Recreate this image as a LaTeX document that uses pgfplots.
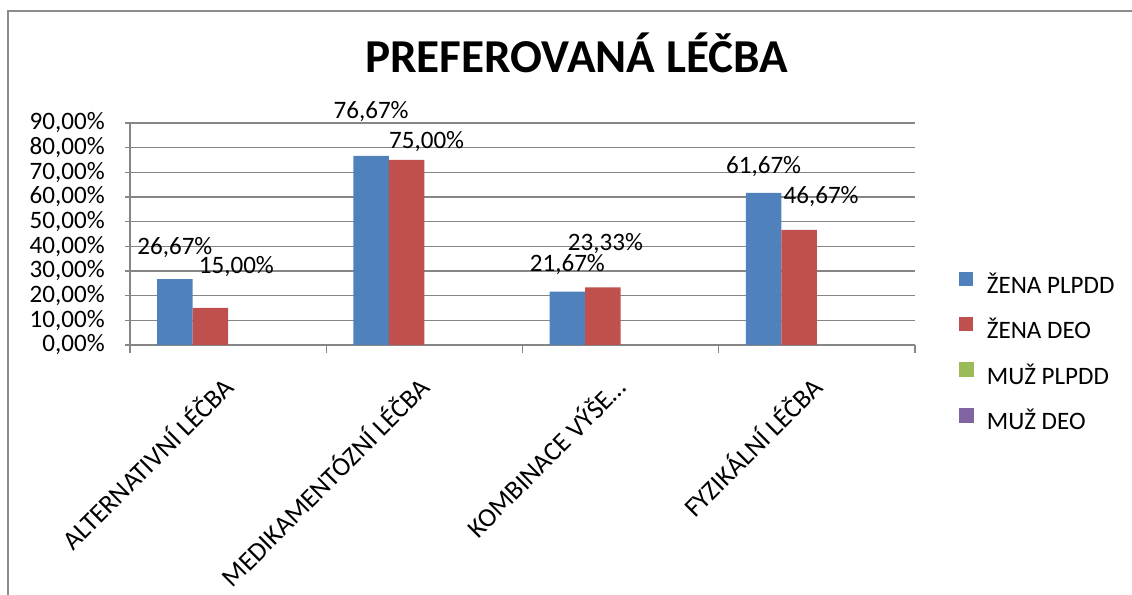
\documentclass[border=0pt]{standalone}
\usepackage{fontspec}
\setmainfont{Carlito}
\usepackage{pgfplots}
\usepackage{pgfplotstable}
\pgfplotsset{compat=1.18}
\definecolor{cblue}{HTML}{4F81BD}
\definecolor{cred}{HTML}{C0504D}
\definecolor{cgreen}{HTML}{9BBB59}
\definecolor{cpurple}{HTML}{8064A2}
\definecolor{cgrid}{HTML}{868686}
\definecolor{cframe}{HTML}{8C8C8C}
\newcommand\lf{\fontsize{18.8}{22}\selectfont}
\newcommand\xf{\fontsize{20}{24}\selectfont}

\pgfplotstableread{
x y dx dy
0 26.67 0 24
1 76.67 0 33
2 21.67 0 19.9
3 61.67 0 19.5
}\zenaplpdd
\pgfplotstableread{
x y dx dy
0 15.00 19.5 30.75
1 75.00 15 13.5
2 23.33 1.9 33
3 46.67 16.5 24.75
}\zenadeo

\begin{document}
\begin{tikzpicture}
\useasboundingbox (0,0) rectangle (849pt,446.25pt);
\draw[color=cframe, line width=1.5pt] (6.2pt,-10pt) -- (6.2pt,438pt) -- (870pt,438pt);
\node[font=\fontsize{35.4}{40}\selectfont\bfseries, anchor=base, inner sep=0pt] at (432.4pt,391.5pt) {PREFEROVANÁ LÉČBA};
\begin{axis}[
  at={(97.5pt,187.5pt)}, anchor=south west,
  scale only axis, width=588.75pt, height=166.5pt,
  ybar, bar width=26.625pt,
  xmin=-0.5, xmax=3.5, ymin=0, ymax=90,
  axis x line*=bottom, axis y line*=left,
  axis line style={cgrid, line width=1pt},
  ytick={0,10,...,90},
  ymajorgrids, grid style={cgrid, line width=1pt},
  yticklabel={\pgfmathprintnumber[fixed,fixed zerofill,precision=2,use comma,assume math mode=true]{\tick}\%},
  yticklabel style={font=\lf, anchor=east, inner sep=0pt, xshift=-15pt},
  y tick style={cgrid, line width=1pt},
  tick align=outside, major tick length=3.75pt,
  xtick={0,1,2,3},
  xticklabels={ALTERNATIVNÍ LÉČBA, MEDIKAMENTÓZNÍ LÉČBA, KOMBINACE VÝŠE…, FYZIKÁLNÍ LÉČBA},
  x tick style={draw=none},
  minor xtick={-0.5,0.5,1.5,2.5,3.5},
  minor x tick style={draw=cgrid, line width=1pt},
  minor tick length=6pt,
  xticklabel style={font=\xf, rotate=45, anchor=north east, inner sep=0pt, xshift=-17pt, yshift=-8pt},
  clip=false,
  nodes near coords={\pgfmathprintnumber[fixed,fixed zerofill,precision=2,use comma,assume math mode=true]{\pgfplotspointmeta}\%},
  legend style={at={(1.056,0.33)}, anchor=north west, draw=none, fill=none,
    inner sep=0pt, outer sep=0pt, row sep=14.5pt, font=\lf, legend cell align=left,
    /tikz/every even column/.append style={text height=12.5pt, text depth=0pt, inner sep=0pt},
    /tikz/every odd column/.append style={column sep=8pt}},
]
\addplot[fill=cblue, draw=none, bar shift=-39.94pt,
  visualization depends on={\thisrow{dx}\as\dx},
  visualization depends on={\thisrow{dy}\as\dy},
  every node near coord/.append style={font=\lf, black, anchor=center, xshift=\dx pt, yshift=\dy pt},
  legend image code/.code={\fill[cblue] (0pt,0pt) rectangle (10.5pt,10.5pt);}]
  table[x=x, y=y] {\zenaplpdd};
\addplot[fill=cred, draw=none, bar shift=-13.31pt,
  visualization depends on={\thisrow{dx}\as\dx},
  visualization depends on={\thisrow{dy}\as\dy},
  every node near coord/.append style={font=\lf, black, anchor=center, xshift=\dx pt, yshift=\dy pt},
  legend image code/.code={\fill[cred] (0pt,0pt) rectangle (10.5pt,10.5pt);}]
  table[x=x, y=y] {\zenadeo};
\addlegendimage{legend image code/.code={\fill[cgreen] (0pt,0pt) rectangle (10.5pt,10.5pt);}}
\addlegendimage{legend image code/.code={\fill[cpurple] (0pt,0pt) rectangle (10.5pt,10.5pt);}}
\legend{ŽENA PLPDD, ŽENA DEO, MUŽ PLPDD, MUŽ DEO}
\end{axis}
\end{tikzpicture}
\end{document}
